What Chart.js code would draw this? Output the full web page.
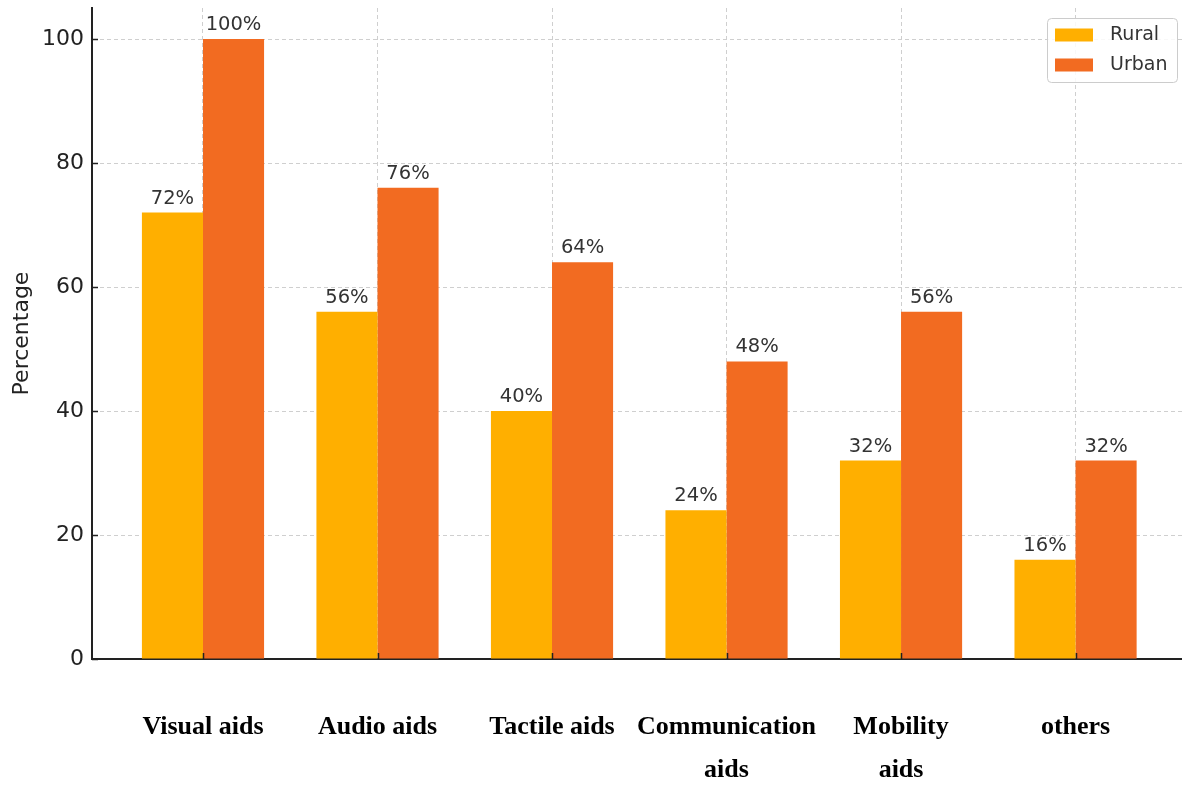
<!DOCTYPE html>
<html>
<head>
<meta charset="utf-8">
<script src="https://cdn.jsdelivr.net/npm/chart.js@4.4.1/dist/chart.umd.min.js"></script>
<style>
  html, body { margin: 0; padding: 0; background: #ffffff; }
  #wrap { width: 1182px; height: 787px; }
</style>
</head>
<body>
<div id="wrap"><canvas id="chart" width="1182" height="787"></canvas></div>
<script>
// Assistive-device usage by area (%)
const categories = ["Visual aids", "Audio aids", "Tactile aids", ["Communication", "aids"], ["Mobility", "aids"], "others"];
const seriesNames = ["Rural", "Urban"];
const ruralValues = [72, 56, 40, 24, 32, 16];
const urbanValues = [100, 76, 64, 48, 56, 32];
const yTicks = [0, 20, 40, 60, 80, 100];

const ruralColor = "#FFAF00";
const urbanColor = "#F26B21";
const inkColor = "#222222";

Chart.defaults.font.family = "'DejaVu Sans', sans-serif";

const toPoints = (vals) => vals.map((v, i) => ({ x: i, y: v }));

// Value labels above each bar
const valueLabels = {
  id: "valueLabels",
  afterDatasetsDraw(chart) {
    const ctx = chart.ctx;
    ctx.save();
    ctx.font = "19.5px 'DejaVu Sans'";
    ctx.fillStyle = "#333333";
    ctx.textAlign = "center";
    ctx.textBaseline = "alphabetic";
    chart.data.datasets.forEach((ds, di) => {
      const meta = chart.getDatasetMeta(di);
      meta.data.forEach((bar, i) => {
        ctx.fillText(ds.data[i].y + "%", bar.x, bar.y - 9);
      });
    });
    ctx.restore();
  }
};

// Inward tick marks on both axes
const inwardTicks = {
  id: "inwardTicks",
  afterDraw(chart) {
    const { ctx, chartArea, scales } = chart;
    ctx.save();
    ctx.strokeStyle = inkColor;
    ctx.lineWidth = 1.5;
    ctx.beginPath();
    scales.y.ticks.forEach(t => {
      const py = Math.round(scales.y.getPixelForValue(t.value)) + 0.5;
      ctx.moveTo(chartArea.left, py);
      ctx.lineTo(chartArea.left + 6, py);
    });
    scales.x.ticks.forEach(t => {
      const px = Math.round(scales.x.getPixelForValue(t.value)) + 0.5;
      ctx.moveTo(px, chartArea.bottom);
      ctx.lineTo(px, chartArea.bottom - 6);
    });
    ctx.stroke();
    ctx.restore();
  }
};

// Boxed legend in the upper-right corner of the plot
const boxLegend = {
  id: "boxLegend",
  afterDraw(chart) {
    const { ctx, chartArea } = chart;
    const boxW = 130, boxH = 64;
    const bx = chartArea.right - 5 - boxW;
    const by = chartArea.top + 10;
    ctx.save();
    ctx.beginPath();
    if (ctx.roundRect) ctx.roundRect(bx + 0.5, by + 0.5, boxW, boxH, 4);
    else ctx.rect(bx + 0.5, by + 0.5, boxW, boxH);
    ctx.fillStyle = "rgba(255,255,255,0.85)";
    ctx.fill();
    ctx.strokeStyle = "#cccccc";
    ctx.lineWidth = 1;
    ctx.stroke();
    ctx.font = "19px 'DejaVu Sans'";
    ctx.textBaseline = "middle";
    ctx.textAlign = "left";
    chart.data.datasets.forEach((ds, i) => {
      const cy = by + 17 + i * 30;
      ctx.fillStyle = ds.backgroundColor;
      ctx.fillRect(bx + 8, cy - 6.5, 38, 13);
      ctx.fillStyle = "#333333";
      ctx.fillText(ds.label, bx + 63, cy);
    });
    ctx.restore();
  }
};

new Chart(document.getElementById("chart"), {
  type: "bar",
  data: {
    datasets: [
      { label: seriesNames[0], data: toPoints(ruralValues), backgroundColor: ruralColor, borderWidth: 0 },
      { label: seriesNames[1], data: toPoints(urbanValues), backgroundColor: urbanColor, borderWidth: 0 }
    ]
  },
  options: {
    responsive: false,
    animation: false,
    layout: { padding: { top: 8, left: 0, right: 0, bottom: 0 } },
    datasets: { bar: { categoryPercentage: 0.7, barPercentage: 1.0 } },
    plugins: {
      legend: { display: false },
      tooltip: { enabled: false }
    },
    scales: {
      x: {
        type: "linear",
        offset: false,
        min: -0.636,
        max: 5.61,
        afterBuildTicks(scale) {
          scale.ticks = categories.map((c, i) => ({ value: i }));
        },
        afterFit(scale) {
          scale.height = 128;
          scale.paddingLeft = 0;
          scale.paddingRight = 0;
        },
        ticks: {
          autoSkip: false,
          maxRotation: 0,
          padding: 47,
          color: "#000000",
          font: { family: "'Liberation Serif', 'Times New Roman', serif", size: 26, weight: "bold", lineHeight: 1.65 },
          callback: (value) => categories[value]
        },
        grid: { offset: false, color: "#cfcfcf", lineWidth: 1, drawTicks: false },
        border: { display: true, color: inkColor, width: 2, dash: [4, 3] }
      },
      y: {
        min: 0,
        max: 105,
        afterBuildTicks(scale) {
          scale.ticks = yTicks.map(v => ({ value: v }));
        },
        afterFit(scale) {
          scale.width = 92;
          scale.paddingTop = 0;
          scale.paddingBottom = 0;
        },
        ticks: {
          padding: 8,
          color: inkColor,
          font: { size: 22 }
        },
        title: {
          display: true,
          text: "Percentage",
          color: inkColor,
          font: { size: 22 },
          padding: { top: 9, bottom: 0 }
        },
        grid: { color: "#cfcfcf", lineWidth: 1, drawTicks: false },
        border: { display: true, color: inkColor, width: 2, dash: [4, 3] }
      }
    }
  },
  plugins: [valueLabels, inwardTicks, boxLegend]
});
</script>
</body>
</html>
